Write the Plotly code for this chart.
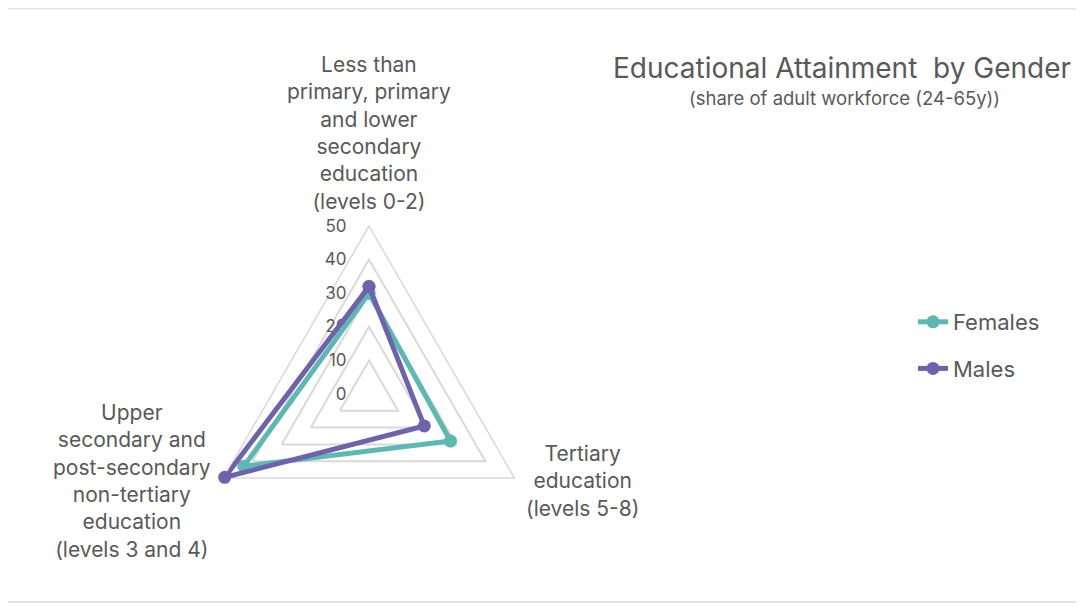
import plotly.graph_objects as go

# axis categories and the labels shown around the radar
categories = ["Primary", "Tertiary", "Upper secondary"]
category_labels = [
    "Less than<br>primary, primary<br>and lower<br>secondary<br>education<br>(levels 0-2)",
    "Tertiary<br>education<br>(levels 5-8)",
    "Upper<br>secondary and<br>post-secondary<br>non-tertiary<br>education<br>(levels 3 and 4)",
]
females = [30.0, 28.0, 43.0]
males = [32.0, 19.0, 49.6]
radial_ticks = [0, 10, 20, 30, 40, 50]

TEAL = "#5cb9b1"
PURPLE = "#6e62ad"
TEXT = "#595959"
FONT = "Inter, Open Sans, sans-serif"

W, H = 1084, 607
cx, cy, rad = 361, 386, 168  # polar centre / radius in px

fig = go.Figure()
for name, vals, col in [("Females", females, TEAL), ("Males", males, PURPLE)]:
    fig.add_trace(
        go.Scatterpolar(
            r=vals + vals[:1],
            theta=categories + categories[:1],
            mode="lines+markers",
            name=name,
            legendgroup=name,
            cliponaxis=False,
            line={"color": col, "width": 5},
            marker={"color": col, "size": 13},
        )
    )

# category labels, centred like the original
label_pos = [(361, 125), (574, 473), (124, 473)]
annotations = [
    {"text": txt, "x": x / W, "y": 1 - y / H, "xref": "paper", "yref": "paper",
     "xanchor": "center", "yanchor": "middle", "align": "center", "showarrow": False,
     "font": {"size": 21, "color": TEXT, "family": FONT}}
    for txt, (x, y) in zip(category_labels, label_pos)
]
annotations += [
    {"text": "Educational Attainment  by Gender", "x": 834 / W, "y": 1 - 60 / H,
     "xref": "paper", "yref": "paper", "xanchor": "center", "yanchor": "middle",
     "showarrow": False, "font": {"size": 28, "color": TEXT, "family": FONT}},
    {"text": "(share of adult workforce (24-65y))", "x": 836 / W, "y": 1 - 90 / H,
     "xref": "paper", "yref": "paper", "xanchor": "center", "yanchor": "middle",
     "showarrow": False, "font": {"size": 18.5, "color": TEXT, "family": FONT}},
]

fig.update_layout(
    width=W,
    height=H,
    margin={"l": 0, "r": 0, "t": 0, "b": 0},
    paper_bgcolor="white",
    plot_bgcolor="white",
    font={"family": FONT, "color": TEXT},
    polar={
        "domain": {
            "x": [(cx - rad) / W, (cx + rad) / W],
            "y": [1 - (cy + rad) / H, 1 - (cy - rad) / H],
        },
        "gridshape": "linear",
        "bgcolor": "white",
        "radialaxis": {
            "range": [0, 50],
            "tickvals": radial_ticks,
            "showline": False,
            "gridcolor": "#d9d9d9",
            "gridwidth": 1.5,
            "angle": 90,
            "tickangle": 90,
            "side": "counterclockwise",
            "ticks": "outside",
            "ticklen": 16,
            "tickcolor": "rgba(0,0,0,0)",
            "layer": "below traces",
            "tickfont": {"size": 17, "color": TEXT},
        },
        "angularaxis": {
            "direction": "clockwise",
            "rotation": 90,
            "showgrid": False,
            "showticklabels": False,
            "linecolor": "#d9d9d9",
            "linewidth": 1.5,
            "ticks": "",
            "layer": "below traces",
        },
    },
    annotations=annotations,
    legend={
        "x": 905 / W,
        "y": 1 - 293 / H,
        "xanchor": "left",
        "yanchor": "top",
        "font": {"size": 22, "color": TEXT, "family": FONT},
        "tracegroupgap": 15,
        "bgcolor": "rgba(0,0,0,0)",
    },
    shapes=[
        {"type": "line", "xref": "paper", "yref": "paper", "x0": 0, "x1": 1,
         "y0": 1 - 0.5 / H, "y1": 1 - 0.5 / H, "line": {"color": "#e3e3e3", "width": 2}},
        {"type": "line", "xref": "paper", "yref": "paper", "x0": 0, "x1": 1,
         "y0": 1 - 594 / H, "y1": 1 - 594 / H, "line": {"color": "#e3e3e3", "width": 2}},
    ],
)

fig.write_html("out.html")
